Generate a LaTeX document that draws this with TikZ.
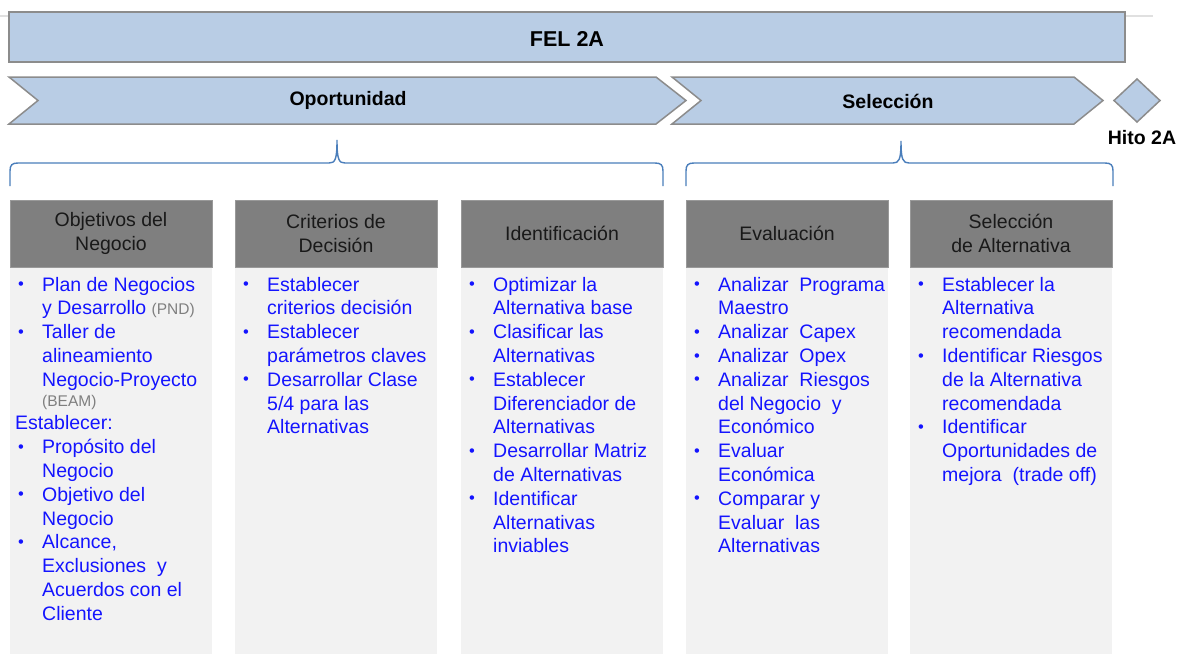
\documentclass[tikz,border=0pt]{standalone}
\usepackage{fontspec}
\setmainfont{Liberation Sans}
\usepackage{array}
\definecolor{barfill}{HTML}{B9CDE5}
\definecolor{barline}{HTML}{8C8C8C}
\definecolor{hdrfill}{HTML}{7F7F7F}
\definecolor{bodyfill}{HTML}{F2F2F2}
\definecolor{txtblue}{RGB}{20,20,255}
\definecolor{bracec}{HTML}{4A7EBB}
\definecolor{notegray}{HTML}{7F7F7F}
\newcommand\gnote[1]{{\fontsize{15.5}{19}\selectfont\color{notegray}#1}}
\newcommand\bul{\makebox[25pt][l]{\hspace{1pt}\raisebox{1.3pt}{\fontsize{16.5}{16}\selectfont\textbullet}}}
\newcommand\estab{\multicolumn{2}{@{\hspace{-2pt}}l@{}}{Establecer:}}
\begin{document}
\begin{tikzpicture}[x=1pt,y=-1pt,
  bar/.style={draw=barline, line width=1.5pt, fill=barfill},
  bracestyle/.style={draw=bracec, line width=1.4pt},
  hdr/.style={fill=hdrfill, draw=black!40, line width=0.6pt, minimum width=202pt, minimum height=67pt, inner sep=0pt, align=center, font=\fontsize{19.5}{24}\selectfont, text=black!90},
  bodybox/.style={fill=bodyfill},
  bodytext/.style={anchor=base west, inner sep=0pt, text=txtblue, font=\fontsize{19.5}{23.8}\selectfont},
  lbl/.style={inner sep=0pt, font=\bfseries\fontsize{19.5}{22}\selectfont, text=black}]
\useasboundingbox (0,0) rectangle (1178,654);
\fill[white] (0,0) rectangle (1178,654);
% faint line behind the top bar
\draw[black!12, line width=1.5pt] (0,16) -- (1153,16);
% top bar
\path[bar] (9,12) rectangle (1125,62);
\node[lbl, font=\bfseries\fontsize{21.5}{24}\selectfont] (fel) at (567,39) {FEL 2A};
% chevrons
\path[bar] (9,77) -- (656,77) -- (686,100.5) -- (656,124) -- (9,124) -- (38,100.5) -- cycle;
\node[lbl] (oport) at (348,100) {Oportunidad};
\path[bar] (672,77) -- (1074,77) -- (1103,100.5) -- (1074,124) -- (672,124) -- (701,100.5) -- cycle;
\node[lbl] (selec) at (888,101) {Selección};
% milestone
\path[bar] (1137,79) -- (1160,100.5) -- (1137,122) -- (1114,100.5) -- cycle;
\node[lbl] (hito) at (1142,138) {Hito 2A};
% braces
\path[bracestyle] (10,186) -- (10,171) .. controls (10,165) and (12,163) .. (18,163) -- (329,163)
  .. controls (335,163) and (337,160) .. (337,140) .. controls (337,160) and (339,163) .. (345,163)
  -- (655,163) .. controls (661,163) and (663,165) .. (663,171) -- (663,186);
\path[bracestyle] (686,186) -- (686,171) .. controls (686,165) and (688,163) .. (694,163) -- (893,163)
  .. controls (899,163) and (901,160) .. (901,141) .. controls (901,160) and (903,163) .. (909,163)
  -- (1105,163) .. controls (1111,163) and (1113,165) .. (1113,171) -- (1113,186);
% column bodies
\path[bodybox] (10,267) rectangle (212,654);
\path[bodybox] (235,267) rectangle (437,654);
\path[bodybox] (461,267) rectangle (663,654);
\path[bodybox] (686,267) rectangle (888,654);
\path[bodybox] (910,267) rectangle (1112,654);
% headers
\node[hdr] (h1) at (111,233.5) {Objetivos del\\Negocio};
\node[hdr] (h2) at (336,233.5) {Criterios de\\Decisión};
\node[hdr] (h3) at (562,233.5) {Identificación};
\node[hdr] (h4) at (787,233.5) {Evaluación};
\node[hdr] (h5) at (1011,233.5) {Selección\\de Alternativa};
% body texts
\node[bodytext] (t1) at (17,291) {\begin{tabular}[t]{@{}l@{}l@{}}
\bul & Plan de Negocios\\
 & y Desarrollo \gnote{(PND)}\\
\bul & Taller de\\
 & alineamiento\\
 & Negocio-Proyecto\\[-4pt]
 & \gnote{(BEAM)}\\
\estab\\
\bul & Propósito del\\
 & Negocio\\
\bul & Objetivo del\\
 & Negocio\\
\bul & Alcance,\\
 & Exclusiones\ \ y\\
 & Acuerdos con el\\
 & Cliente
\end{tabular}};
\node[bodytext] (t2) at (242,291) {\begin{tabular}[t]{@{}l@{}l@{}}
\bul & Establecer\\
 & criterios decisión\\
\bul & Establecer\\
 & parámetros claves\\
\bul & Desarrollar Clase\\
 & 5/4 para las\\
 & Alternativas
\end{tabular}};
\node[bodytext] (t3) at (468,291) {\begin{tabular}[t]{@{}l@{}l@{}}
\bul & Optimizar la\\
 & Alternativa base\\
\bul & Clasificar las\\
 & Alternativas\\
\bul & Establecer\\
 & Diferenciador de\\
 & Alternativas\\
\bul & Desarrollar Matriz\\
 & de Alternativas\\
\bul & Identificar\\
 & Alternativas\\
 & inviables
\end{tabular}};
\node[bodytext] (t4) at (693,291) {\begin{tabular}[t]{@{}l@{}l@{}}
\bul & Analizar\ \ Programa\\
 & Maestro\\
\bul & Analizar\ \ Capex\\
\bul & Analizar\ \ Opex\\
\bul & Analizar\ \ Riesgos\\
 & del Negocio\ \ y\\
 & Económico\\
\bul & Evaluar\\
 & Económica\\
\bul & Comparar y\\
 & Evaluar\ \ las\\
 & Alternativas
\end{tabular}};
\node[bodytext] (t5) at (917,291) {\begin{tabular}[t]{@{}l@{}l@{}}
\bul & Establecer la\\
 & Alternativa\\
 & recomendada\\
\bul & Identificar Riesgos\\
 & de la Alternativa\\
 & recomendada\\
\bul & Identificar\\
 & Oportunidades de\\
 & mejora\ \ (trade off)
\end{tabular}};
\end{tikzpicture}
\end{document}
